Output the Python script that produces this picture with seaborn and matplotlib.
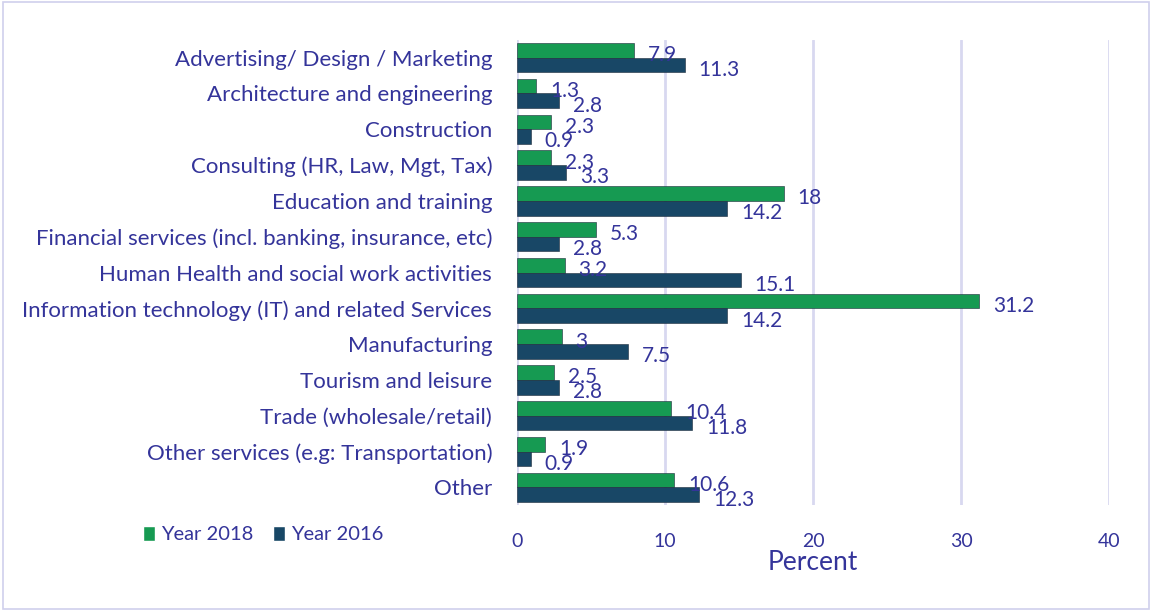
import pandas as pd
import matplotlib.pyplot as plt
import seaborn as sns
from matplotlib.patches import Rectangle

categories = [
    "Advertising/ Design / Marketing",
    "Architecture and engineering",
    "Construction",
    "Consulting (HR, Law, Mgt, Tax)",
    "Education and training",
    "Financial services (incl. banking, insurance, etc)",
    "Human Health and social work activities",
    "Information technology (IT) and related Services",
    "Manufacturing",
    "Tourism and leisure",
    "Trade (wholesale/retail)",
    "Other services (e.g: Transportation)",
    "Other",
]
year_2018 = [7.9, 1.3, 2.3, 2.3, 18, 5.3, 3.2, 31.2, 3, 2.5, 10.4, 1.9, 10.6]
year_2016 = [11.3, 2.8, 0.9, 3.3, 14.2, 2.8, 15.1, 14.2, 7.5, 2.8, 11.8, 0.9, 12.3]
x_ticks = [0, 10, 20, 30, 40]

df = pd.DataFrame({
    "category": categories * 2,
    "value": year_2018 + year_2016,
    "year": ["Year 2018"] * len(categories) + ["Year 2016"] * len(categories),
})

sns.set_style("white")
plt.rcParams['font.family'] = ['Lato', 'DejaVu Sans']

text_col = "#34349A"
colors = {"Year 2018": "#00B050", "Year 2016": "#0B4A73"}

fig = plt.figure(figsize=(11.52, 6.11), dpi=100)
ax = fig.add_axes([0.449, 0.173, 0.514, 0.762])

sns.barplot(data=df, x="value", y="category", hue="year",
            hue_order=["Year 2018", "Year 2016"], palette=colors,
            orient="h", width=0.82, ax=ax, legend=True)

# value labels sit just right of each bar, nudged down a bit like the original
for cont in ax.containers:
    for p in cont.patches:
        p.set_edgecolor("#1a2a3a")
        p.set_linewidth(0.4)
    anns = ax.bar_label(cont, labels=[f"{v:g}" for v in cont.datavalues],
                        padding=10, color=text_col, fontsize=15)
    for a in anns:
        x0, y0 = a.xyann
        a.xyann = (x0, y0 - 3.5)

ax.set_xlim(0, 40)
ax.set_xticks(x_ticks)
ax.set_xticklabels([str(t) for t in x_ticks], color=text_col, fontsize=14)
ax.tick_params(axis='x', pad=20, length=0)
ax.tick_params(axis='y', length=0, pad=18, labelcolor=text_col, labelsize=16)
ax.set_ylabel("")
ax.set_xlabel("Percent", color=text_col, fontsize=19, labelpad=0)
ax.xaxis.grid(True, color="#D8D8F0", linewidth=2)
ax.set_axisbelow(True)
for s in ax.spines.values():
    s.set_visible(False)

handles, labels = ax.get_legend_handles_labels()
ax.legend_.remove()
fig.legend(handles, labels, loc="center left", bbox_to_anchor=(0.108, 0.125),
           ncol=2, frameon=False, fontsize=14.5, labelcolor=text_col,
           handlelength=0.6, handleheight=0.8, handletextpad=0.3, columnspacing=1.0)

fig.patches.append(Rectangle((0.003, 0.003), 0.994, 0.994, transform=fig.transFigure,
                             fill=False, edgecolor="#D0D0EC", linewidth=1.2))

fig.savefig("out.png", dpi=100)
